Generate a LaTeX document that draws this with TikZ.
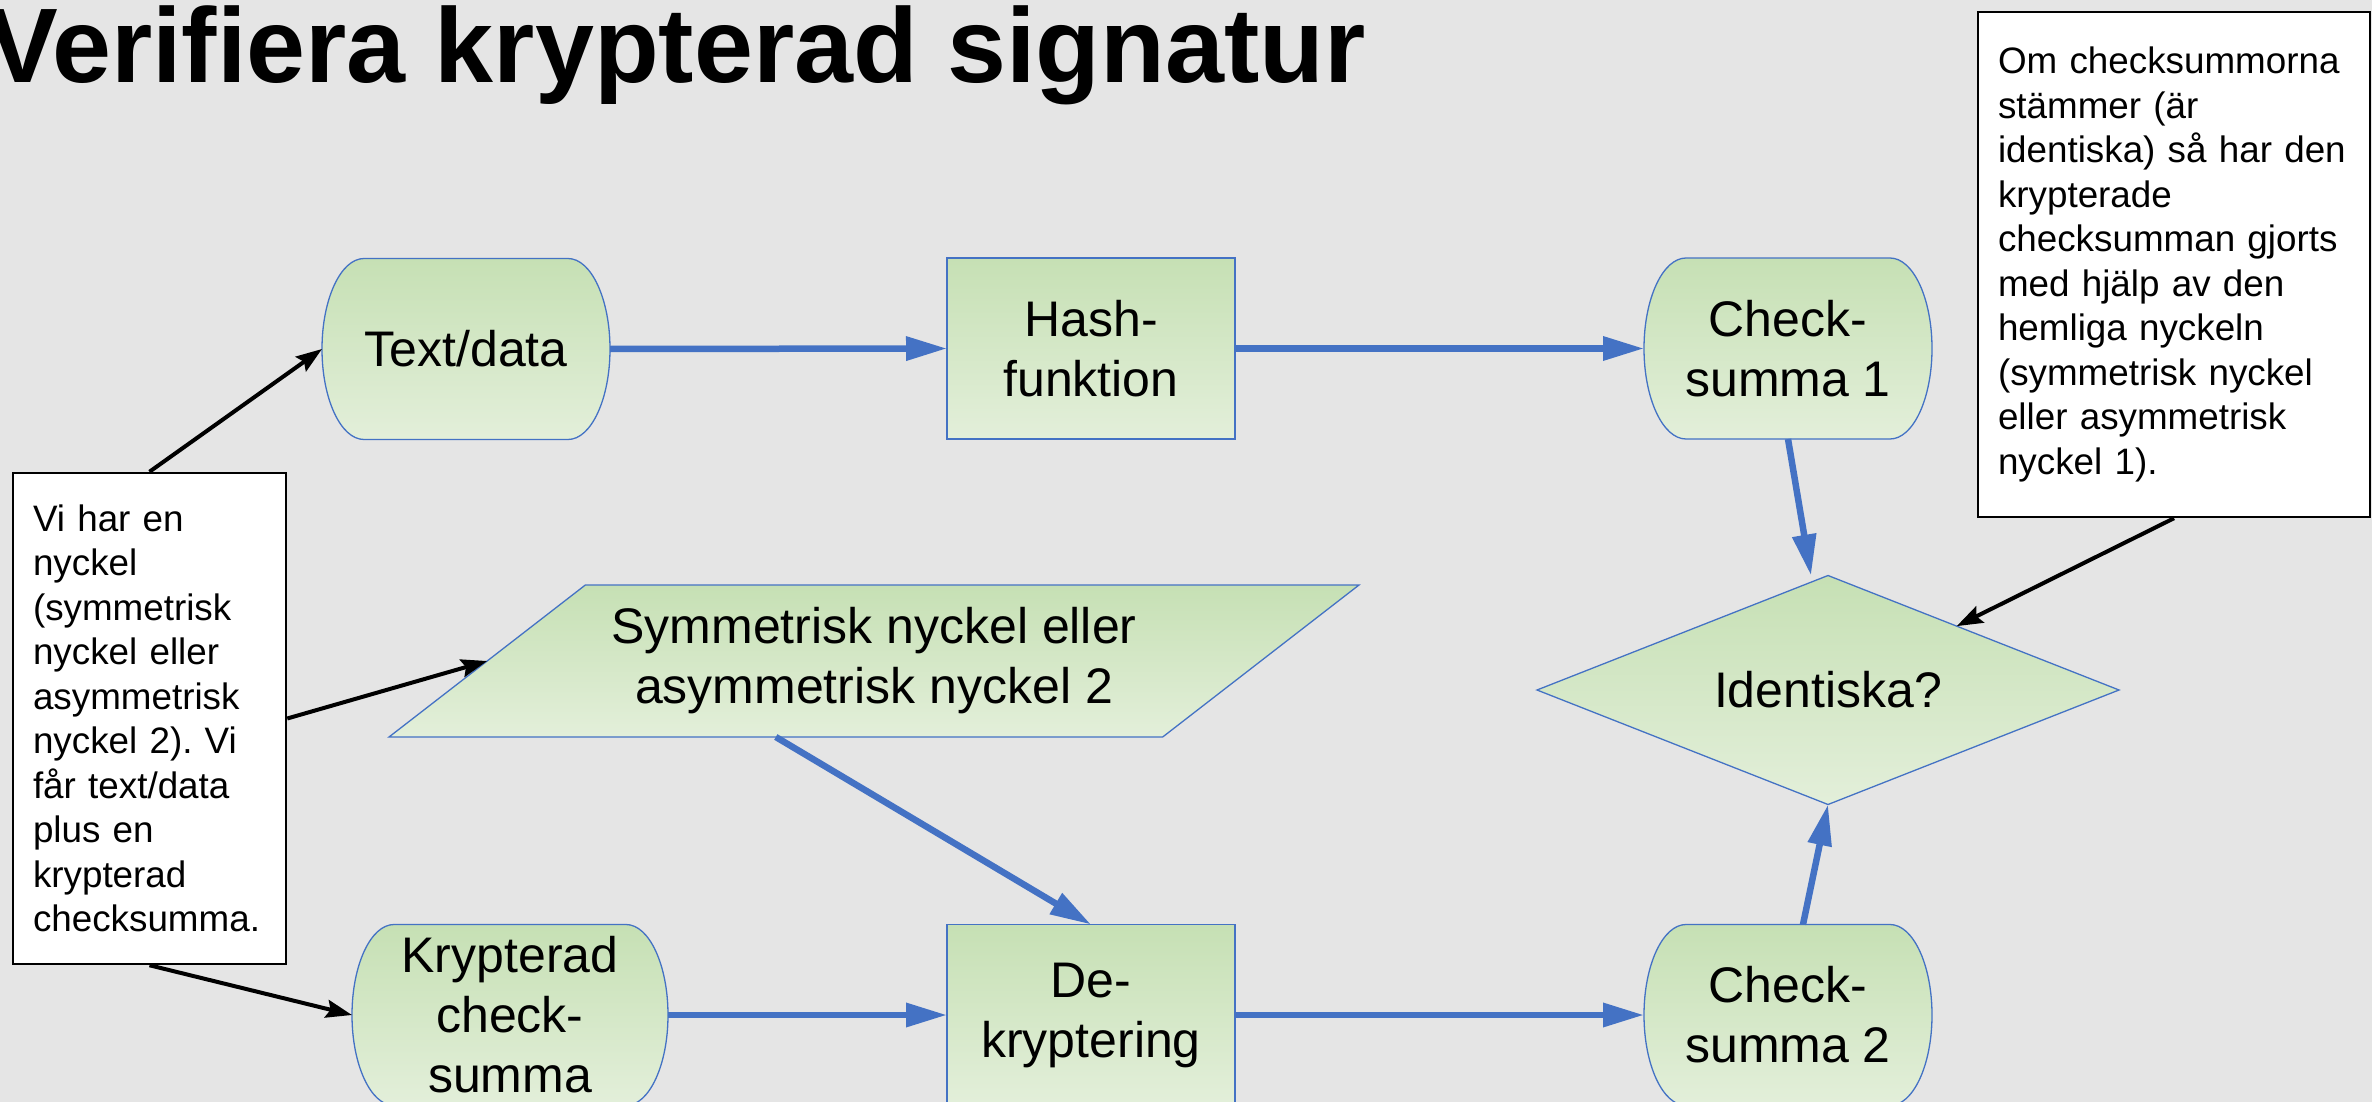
\documentclass[tikz,border=0pt]{standalone}
\usepackage{fontspec}
\setmainfont{Liberation Sans}
\usetikzlibrary{shapes.geometric,arrows.meta,backgrounds,calc}
\definecolor{slide}{RGB}{229,229,229}
\definecolor{edge}{RGB}{68,114,196}
\definecolor{greentop}{RGB}{198,224,180}
\definecolor{greenbot}{RGB}{227,239,218}
\frenchspacing
\begin{document}
\begin{tikzpicture}
[x=1pt,y=-1pt,
boxtext/.style={inner sep=0pt,outer sep=0pt,align=center,font=\fontsize{50}{60}\selectfont},
greenfill/.style={draw=edge,line width=1.3pt,top color=greentop,bottom color=greenbot},
termbox/.style={boxtext,minimum width=288pt,minimum height=181pt},
procbox/.style={boxtext,greenfill,rectangle,minimum width=288pt,minimum height=181pt},
decbox/.style={boxtext,greenfill,diamond,aspect=2.54,minimum width=582pt,minimum height=229pt},
iobox/.style={boxtext,greenfill,trapezium,trapezium left angle=28.5,trapezium right angle=151.5,
  trapezium stretches body,minimum width=970pt,minimum height=152pt},
notebox/.style={draw=black,line width=2.5pt,fill=white,inner sep=0pt,align=left,
  font=\fontsize{36.8}{44.5}\selectfont},
flow/.style={draw=edge,line width=6.5pt,-{Triangle[length=41pt,width=23pt]}},
pointer/.style={draw=black,line width=4pt,-{Stealth[length=26pt,width=18pt,inset=4pt]}}]
\useasboundingbox (0,0) rectangle (2372,1102);

\node[anchor=base west,inner sep=0pt,font=\bfseries\fontsize{106}{120}\selectfont] (title) at (-13,83) {Verifiera krypterad signatur};

% upper row
\node[termbox] (text) at (466,349) {Text/data};
\node[procbox] (hash) at (1091,348.5) {Hash-\\funktion};
\node[termbox] (cs1) at (1788,348.5) {Check-\\summa 1};

% middle
\node[iobox] (key) at (874,661) {Symmetrisk nyckel eller\\asymmetrisk nyckel 2};
\node[decbox] (ident) at (1828,690) {Identiska?};

% lower row
\node[termbox,minimum width=316pt] (kcs) at (510,1015) {Krypterad\\check-\\summa};
\node[procbox] (dek) at (1091,1015) {De-\\kryptering};
\node[termbox] (cs2) at (1788,1015) {Check-\\summa 2};

% notes
\node[notebox,minimum width=273pt,minimum height=491pt,text width=233pt] (note1) at (149.5,718.5)
  {Vi har en\\nyckel\\(symmetrisk\\nyckel eller\\asymmetrisk\\nyckel 2). Vi\\får text/data\\plus en\\krypterad\\checksumma.};
\node[notebox,minimum width=392pt,minimum height=505pt,text width=352pt] (note2) at (2174,264.5)
  {Om checksummorna\\stämmer (är\\identiska) så har den\\krypterade\\checksumman gjorts\\med hjälp av den\\hemliga nyckeln\\(symmetrisk nyckel\\eller asymmetrisk\\nyckel 1).};

\begin{scope}[on background layer]
  \fill[slide] (0,0) rectangle (2372,1102);
  \foreach \n in {text,cs1,kcs,cs2}
    \draw[greenfill] ($(\n.north west)+(42,0)$) -- ($(\n.north east)+(-42,0)$)
      arc[start angle=90,end angle=-90,x radius=42pt,y radius=90.5pt]
      -- ($(\n.south west)+(42,0)$)
      arc[start angle=270,end angle=90,x radius=42pt,y radius=90.5pt] -- cycle;
\end{scope}

% flow
\draw[flow] (text.east) -- (hash.west);
\draw[flow] (hash.east) -- (cs1.west);
\draw[flow] (cs1.south) -- ($(ident.north)+(-17,0)$);
\draw[flow] ($(cs2.north)+(15,0)$) -- (ident.south);
\draw[flow] (key.bottom side) -- (dek.north);
\draw[flow] (kcs.east) -- (dek.west);
\draw[flow] (dek.east) -- (cs2.west);

% notes
\draw[pointer] (note1.north) -- (text.west);
\draw[pointer] (note1.east) -- (key.left side);
\draw[pointer] (note1.south) -- (kcs.west);
\draw[pointer] (note2.south) -- (ident);
\end{tikzpicture}
\end{document}
